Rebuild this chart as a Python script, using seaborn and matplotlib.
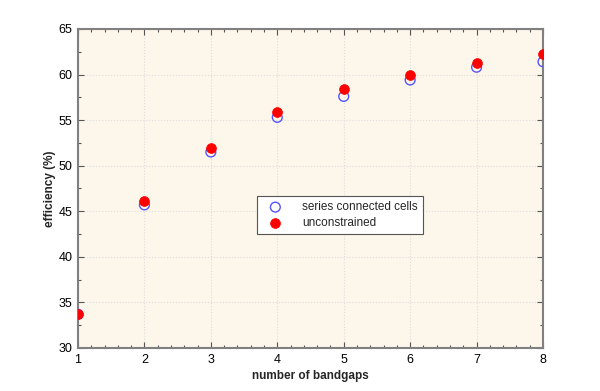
import matplotlib
matplotlib.use("Agg")
import matplotlib.pyplot as plt
import seaborn as sns
import pandas as pd
from matplotlib.ticker import MultipleLocator

bandgaps = [1, 2, 3, 4, 5, 6, 7, 8]
series_connected = [33.7, 45.7, 51.5, 55.3, 57.6, 59.4, 60.8, 61.4]
unconstrained = [33.7, 46.1, 51.9, 55.9, 58.4, 59.9, 61.3, 62.3]

df_s = pd.DataFrame({"n": bandgaps, "eff": series_connected})
df_u = pd.DataFrame({"n": bandgaps, "eff": unconstrained})

sns.set_style("ticks")
plt.rcParams['font.family'] = ['Liberation Sans', 'DejaVu Sans']

fig = plt.figure(figsize=(6, 3.91), dpi=100)
ax = fig.add_axes([0.13, 0.11, 0.775, 0.816])
ax.set_facecolor("#fdf6ea")

sns.scatterplot(data=df_s, x="n", y="eff", ax=ax, marker="o", s=50,
                facecolors="none", edgecolor="#5555ff", linewidth=1.0,
                label="series connected cells", zorder=3)
sns.scatterplot(data=df_u, x="n", y="eff", ax=ax, marker="o", s=50,
                color="#ff0000", edgecolor="#ff0000", linewidth=0.5,
                label="unconstrained", zorder=4)

ax.set_xlim(1, 8)
ax.set_ylim(30, 65)
ax.xaxis.set_major_locator(MultipleLocator(1))
ax.xaxis.set_minor_locator(MultipleLocator(0.2))
ax.yaxis.set_major_locator(MultipleLocator(5))
ax.yaxis.set_minor_locator(MultipleLocator(2.5))
ax.tick_params(which="both", direction="in", top=True, right=True,
               colors="#555555", labelcolor="black", labelsize=9)
ax.tick_params(which="major", length=4, width=0.8, pad=4)
ax.tick_params(which="minor", length=2, width=0.8)
ax.grid(True, which="major", color="#dcdcdc", linestyle=":", linewidth=0.8)
for sp in ax.spines.values():
    sp.set_color("#808080")
    sp.set_linewidth(1.5)
    sp.set_visible(True)

ax.set_xlabel("number of bandgaps", fontsize=8.5, fontweight="bold", labelpad=3)
ax.set_ylabel("efficiency (%)", fontsize=8.5, fontweight="bold", labelpad=2)

leg = ax.legend(loc="lower left", bbox_to_anchor=(0.385, 0.357), fontsize=8.5,
                frameon=True, fancybox=False, framealpha=1, edgecolor="#555555",
                borderpad=0.45, handletextpad=1.2, handlelength=2.2,
                labelspacing=0.3, borderaxespad=0)
leg.get_frame().set_linewidth(0.8)

fig.savefig("out.png", dpi=100)
